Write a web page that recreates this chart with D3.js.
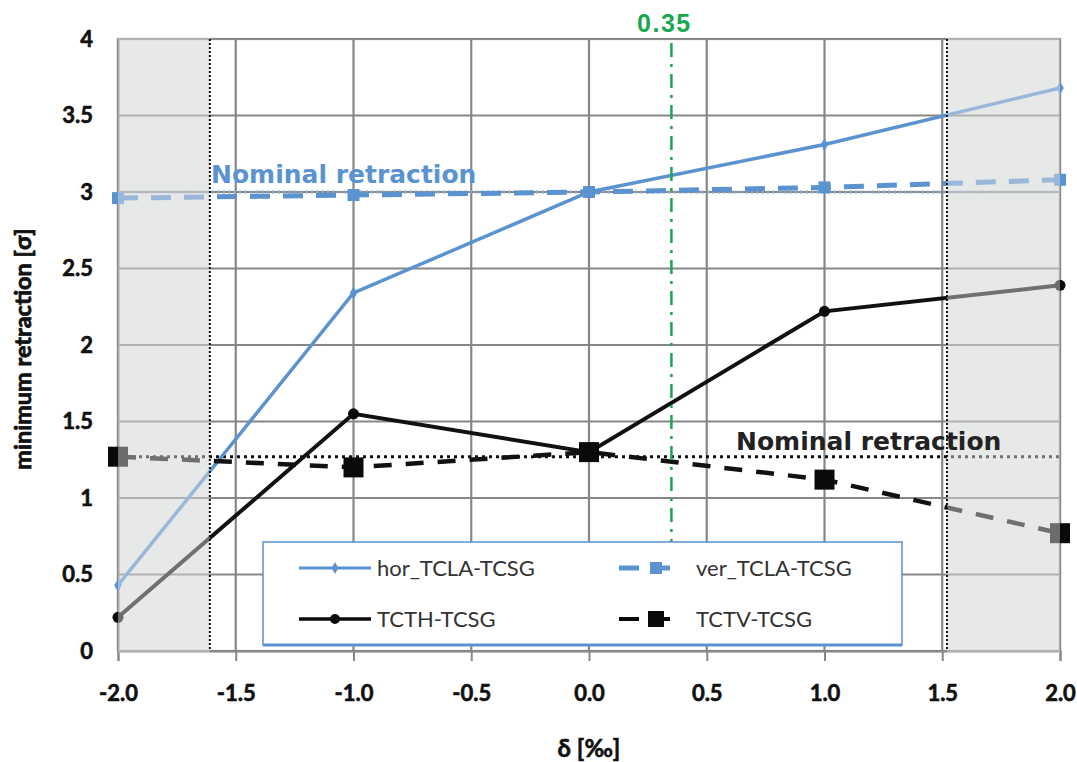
<!DOCTYPE html>
<html>
<head>
<meta charset="utf-8">
<script src="https://cdn.jsdelivr.net/npm/d3@7"></script>
<style>
  html, body { margin: 0; padding: 0; background: #ffffff; }
  svg { display: block; }
</style>
</head>
<body>
<svg id="chart" width="1077" height="762"></svg>
<script>
// ---- data ----
const deltas = [-2.0, -1.0, 0.0, 1.0, 2.0];
const horTCLA = [0.43, 2.34, 3.00, 3.31, 3.68];
const verTCLA = [2.96, 2.98, 3.00, 3.03, 3.08];
const tcthTCSG = [0.22, 1.55, 1.30, 2.22, 2.39];
const tctvTCSG = [1.27, 1.20, 1.30, 1.12, 0.77];
const seriesNames = ["hor_TCLA-TCSG", "ver_TCLA-TCSG", "TCTH-TCSG", "TCTV-TCSG"];
const xTicks = [-2.0, -1.5, -1.0, -0.5, 0.0, 0.5, 1.0, 1.5, 2.0];
const yTicks = [0, 0.5, 1, 1.5, 2, 2.5, 3, 3.5, 4];
const nominalHor = 3.0;       // nominal retraction, TCLA
const nominalVer = 1.27;      // nominal retraction, TCT
const apertureBounds = [-1.61, 1.52];
const markerDelta = 0.35;

// ---- layout ----
const svg = d3.select("#chart");
const L = 118, R = 1060, T = 39, B = 651;
const x = d3.scaleLinear().domain([-2, 2]).range([L, R]);
const y = d3.scaleLinear().domain([0, 4]).range([B, T]);

const blue = "#5a93cf";
const grid = "#878787";
const fmtX = d => d3.format(".1f")(d).replace("\u2212", "-");

// shaded outer regions
const shade = svg.append("g");
[[-2, apertureBounds[0]], [apertureBounds[1], 2]].forEach(([a, b]) => {
  shade.append("rect")
    .attr("x", x(a)).attr("y", T)
    .attr("width", x(b) - x(a)).attr("height", B - T)
    .attr("fill", "#eaebeb");
});

// gridlines
const gGrid = svg.append("g");
gGrid.selectAll("line.h").data(yTicks).join("line")
  .attr("x1", L).attr("x2", R)
  .attr("y1", d => y(d)).attr("y2", d => y(d))
  .attr("stroke", grid).attr("stroke-width", 2.2);
gGrid.selectAll("line.v").data(xTicks).join("line")
  .attr("y1", T).attr("y2", B)
  .attr("x1", d => x(d)).attr("x2", d => x(d))
  .attr("stroke", grid).attr("stroke-width", 2.2);

// x axis tick marks and labels
const xAxis = d3.axisBottom(x).tickValues(xTicks).tickFormat(fmtX)
  .tickSize(10).tickPadding(24);
const gx = svg.append("g").attr("transform", `translate(0,${B})`).call(xAxis);
gx.select(".domain").attr("stroke", grid).attr("stroke-width", 2);
gx.selectAll(".tick line").attr("stroke", grid).attr("stroke-width", 2);
gx.selectAll(".tick text")
  .attr("font-family", "Lato, sans-serif").attr("font-weight", "bold")
  .attr("font-size", 22).attr("fill", "#111")
  .attr("stroke", "#111").attr("stroke-width", 0.6);

// y axis labels
const yAxis = d3.axisLeft(y).tickValues(yTicks).tickFormat(d3.format("")).tickSize(0).tickPadding(25);
const gy = svg.append("g").attr("transform", `translate(${L},0)`).call(yAxis);
gy.select(".domain").attr("stroke", grid).attr("stroke-width", 2);
gy.selectAll(".tick text")
  .attr("font-family", "Lato, sans-serif").attr("font-weight", "bold")
  .attr("font-size", 22).attr("fill", "#111")
  .attr("stroke", "#111").attr("stroke-width", 0.6);

// plot frame
svg.append("rect").attr("x", L).attr("y", T).attr("width", R - L).attr("height", B - T)
  .attr("fill", "none").attr("stroke", grid).attr("stroke-width", 2.2);

// nominal retraction reference lines
svg.append("line").attr("x1", L).attr("x2", R)
  .attr("y1", y(nominalHor)).attr("y2", y(nominalHor))
  .attr("stroke", "#8ea6c0").attr("stroke-width", 3).attr("stroke-dasharray", "2.5,3");
svg.append("line").attr("x1", L).attr("x2", R)
  .attr("y1", y(nominalVer)).attr("y2", y(nominalVer))
  .attr("stroke", "#111").attr("stroke-width", 3).attr("stroke-dasharray", "3,4");

// series
const line = d3.line().x(d => x(d[0])).y(d => y(d[1]));
const zip = vals => deltas.map((d, i) => [d, vals[i]]);
const gSeries = svg.append("g");

gSeries.append("path").datum(zip(verTCLA)).attr("d", line)
  .attr("fill", "none").attr("stroke", blue).attr("stroke-width", 5)
  .attr("stroke-dasharray", "20,13");
gSeries.append("path").datum(zip(horTCLA)).attr("d", line)
  .attr("fill", "none").attr("stroke", blue).attr("stroke-width", 3.5);
gSeries.append("path").datum(zip(tctvTCSG)).attr("d", line)
  .attr("fill", "none").attr("stroke", "#111").attr("stroke-width", 4.5)
  .attr("stroke-dasharray", "18,14");
gSeries.append("path").datum(zip(tcthTCSG)).attr("d", line)
  .attr("fill", "none").attr("stroke", "#111").attr("stroke-width", 4);

// markers
gSeries.selectAll("rect.ver").data(zip(verTCLA)).join("rect")
  .attr("x", d => x(d[0]) - 6).attr("y", d => y(d[1]) - 6)
  .attr("width", 12).attr("height", 12).attr("fill", blue);
gSeries.selectAll("path.hor").data(zip(horTCLA)).join("path")
  .attr("d", d3.symbol(d3.symbolDiamond, 50))
  .attr("transform", d => `translate(${x(d[0])},${y(d[1])})`).attr("fill", blue);
gSeries.selectAll("rect.tctv").data(zip(tctvTCSG)).join("rect")
  .attr("x", d => x(d[0]) - 10).attr("y", d => y(d[1]) - 10)
  .attr("width", 20).attr("height", 20).attr("fill", "#0a0a0a");
gSeries.selectAll("circle.tcth").data(zip(tcthTCSG)).join("circle")
  .attr("cx", d => x(d[0])).attr("cy", d => y(d[1])).attr("r", 5.5).attr("fill", "#0a0a0a");

// wash over outer regions
[[-2, apertureBounds[0]], [apertureBounds[1], 2]].forEach(([a, b]) => {
  svg.append("rect")
    .attr("x", x(a)).attr("y", T - 2)
    .attr("width", x(b) - x(a)).attr("height", B - T + 4)
    .attr("fill", "#e4e5e5").attr("opacity", 0.45);
});

// aperture bound lines
svg.selectAll("line.bound").data(apertureBounds).join("line")
  .attr("x1", d => x(d)).attr("x2", d => x(d))
  .attr("y1", T).attr("y2", B)
  .attr("stroke", "#111").attr("stroke-width", 2).attr("stroke-dasharray", "2,2");

// 0.35 marker
svg.append("line").attr("x1", x(markerDelta)).attr("x2", x(markerDelta))
  .attr("y1", T + 4).attr("y2", B)
  .attr("stroke", "#1aa84f").attr("stroke-width", 2.5)
  .attr("stroke-dasharray", "14,7,3,7");
svg.append("text").attr("x", x(markerDelta) - 7).attr("y", 32)
  .attr("text-anchor", "middle")
  .attr("font-family", "'Liberation Sans', Arial, sans-serif").attr("font-weight", "bold")
  .attr("font-size", 25).attr("letter-spacing", 1.5).attr("fill", "#1aa84f")
  .text(markerDelta.toFixed(2));

// nominal retraction labels
svg.append("text").attr("x", 211).attr("y", 183)
  .attr("font-family", "'DejaVu Sans', sans-serif").attr("font-weight", "bold")
  .attr("font-size", 25).attr("fill", blue)
  .text("Nominal retraction");
svg.append("text").attr("x", 736).attr("y", 450)
  .attr("font-family", "'DejaVu Sans', sans-serif").attr("font-weight", "bold")
  .attr("font-size", 25).attr("fill", "#222")
  .text("Nominal retraction");

// legend
const lg = svg.append("g");
lg.append("rect").attr("x", 263).attr("y", 542).attr("width", 639).attr("height", 103)
  .attr("fill", "#ffffff").attr("stroke", blue).attr("stroke-width", 1.5);
lg.append("line").attr("x1", 263).attr("x2", 902).attr("y1", 645).attr("y2", 645)
  .attr("stroke", blue).attr("stroke-width", 3);

const legendItems = [
  { name: seriesNames[0], x0: 299, x1: 371, y: 568, color: blue, dash: null, width: 3, marker: "diamond" },
  { name: seriesNames[1], x0: 619, x1: 675, y: 568, color: blue, dash: "20,11", width: 5, marker: "square", size: 12 },
  { name: seriesNames[2], x0: 299, x1: 371, y: 619, color: "#0a0a0a", dash: null, width: 3.5, marker: "circle" },
  { name: seriesNames[3], x0: 619, x1: 675, y: 619, color: "#0a0a0a", dash: "20,11", width: 4, marker: "square", size: 16 }
];
legendItems.forEach(it => {
  lg.append("line").attr("x1", it.x0).attr("x2", it.x1).attr("y1", it.y).attr("y2", it.y)
    .attr("stroke", it.color).attr("stroke-width", it.width)
    .attr("stroke-dasharray", it.dash);
  const cx = it.marker === "square" ? it.x0 + 37 : (it.x0 + it.x1) / 2;
  if (it.marker === "diamond") {
    lg.append("path").attr("d", d3.symbol(d3.symbolDiamond, 40))
      .attr("transform", `translate(${cx},${it.y})`).attr("fill", it.color);
  } else if (it.marker === "circle") {
    lg.append("circle").attr("cx", cx).attr("cy", it.y).attr("r", 5).attr("fill", it.color);
  } else {
    lg.append("rect").attr("x", cx - it.size / 2).attr("y", it.y - it.size / 2)
      .attr("width", it.size).attr("height", it.size).attr("fill", it.color);
  }
  lg.append("text").attr("x", it.x1 + (it.x0 < 400 ? 6 : 21)).attr("y", it.y + 8)
    .attr("font-family", "Lato, sans-serif").attr("font-size", 22).attr("fill", "#333")
    .text(it.name);
});

// axis titles
svg.append("text").attr("transform", `translate(31,${(T + B) / 2 + 4}) rotate(-90)`)
  .attr("text-anchor", "middle")
  .attr("font-family", "Lato, sans-serif").attr("font-weight", "bold")
  .attr("font-size", 23.5).attr("fill", "#111")
  .attr("stroke", "#111").attr("stroke-width", 0.8)
  .text("minimum retraction [σ]");
svg.append("text").attr("x", (L + R) / 2).attr("y", 757)
  .attr("text-anchor", "middle")
  .attr("font-family", "Lato, sans-serif").attr("font-weight", "bold")
  .attr("font-size", 24).attr("fill", "#111")
  .attr("stroke", "#111").attr("stroke-width", 0.6)
  .text("δ [‰]");
</script>
</body>
</html>
